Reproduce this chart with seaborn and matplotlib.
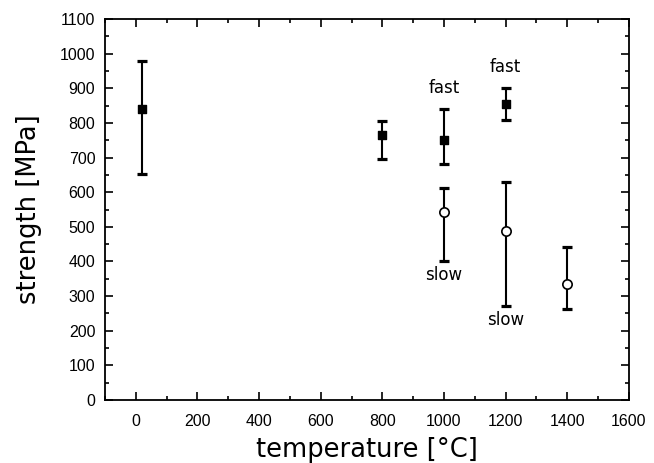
import matplotlib
matplotlib.use("Agg")
import matplotlib.pyplot as plt
import seaborn as sns
import pandas as pd
import numpy as np
from matplotlib.ticker import MultipleLocator

# data
fast_T = [20, 800, 1000, 1200]
fast_S = [840, 764, 751, 855]
fast_lo = [652, 697, 680, 809]
fast_hi = [980, 806, 840, 900]

slow_T = [1000, 1200, 1400]
slow_S = [544, 489, 336]
slow_lo = [402, 272, 262]
slow_hi = [613, 629, 441]

labels = [("fast", 1000, 900), ("fast", 1200, 962), ("slow", 1000, 361), ("slow", 1200, 231)]

sns.set_style("ticks")
plt.rcParams['font.family'] = ['Liberation Sans', 'DejaVu Sans']
plt.rcParams['text.color'] = 'black'
plt.rcParams['axes.labelcolor'] = 'black'
plt.rcParams['xtick.color'] = 'black'
plt.rcParams['ytick.color'] = 'black'

fig = plt.figure(figsize=(6.54, 4.63), dpi=100)
ax = fig.add_axes([0.1606, 0.136, 0.801, 0.823])

df_f = pd.DataFrame({"T": fast_T, "S": fast_S})
df_s = pd.DataFrame({"T": slow_T, "S": slow_S})

ax.errorbar(fast_T, fast_S,
            yerr=[np.array(fast_S) - np.array(fast_lo), np.array(fast_hi) - np.array(fast_S)],
            fmt='none', ecolor='black', elinewidth=1.5, capsize=3.8, capthick=2.3, zorder=2)
ax.errorbar(slow_T, slow_S,
            yerr=[np.array(slow_S) - np.array(slow_lo), np.array(slow_hi) - np.array(slow_S)],
            fmt='none', ecolor='black', elinewidth=1.5, capsize=3.8, capthick=2.3, zorder=2)

sns.scatterplot(data=df_f, x="T", y="S", marker="s", s=40, color="black",
                edgecolor="black", linewidth=1, ax=ax, zorder=3)
sns.scatterplot(data=df_s, x="T", y="S", marker="o", s=45, facecolor="white",
                edgecolor="black", linewidth=1.2, ax=ax, zorder=3)

for txt, x, y in labels:
    ax.text(x, y, txt, ha="center", va="center", fontsize=12, family="DejaVu Sans",
            color="black")

ax.set_xlim(-100, 1600)
ax.set_ylim(0, 1100)
ax.xaxis.set_major_locator(MultipleLocator(200))
ax.xaxis.set_minor_locator(MultipleLocator(100))
ax.yaxis.set_major_locator(MultipleLocator(100))
ax.yaxis.set_minor_locator(MultipleLocator(50))
ax.tick_params(which="both", direction="in", top=True, right=True, width=1.2,
               labelsize=11.5, colors="black")
ax.tick_params(which="major", length=5.5)
ax.tick_params(which="minor", length=3)
ax.tick_params(axis="x", which="major", pad=10)
ax.tick_params(axis="y", which="major", pad=7)
for sp in ax.spines.values():
    sp.set_linewidth(1.3)
    sp.set_color("black")

ax.set_xlabel("temperature [°C]", fontsize=18.5, labelpad=5.5, family="DejaVu Sans")
ax.set_ylabel("strength [MPa]", fontsize=18.5, labelpad=13, family="DejaVu Sans")

fig.savefig("out.png", dpi=100)
